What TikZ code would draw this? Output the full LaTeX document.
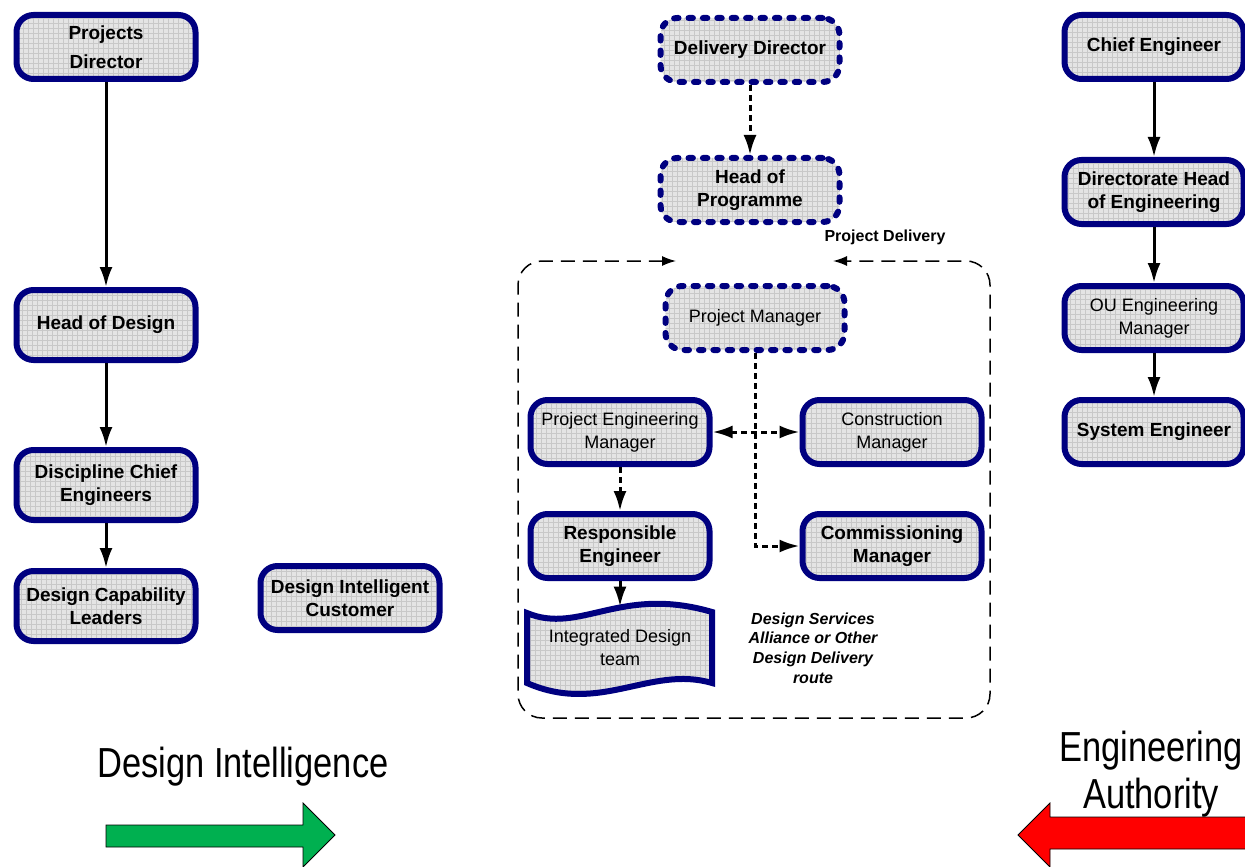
\documentclass[tikz,border=0pt]{standalone}
\usepackage{xcolor}
\usepackage{fontspec}
\setmainfont{Liberation Sans}
\newfontfamily\bigfont[FakeStretch=0.82]{Liberation Sans}
\usetikzlibrary{arrows.meta}

\definecolor{boxblue}{RGB}{0,0,128}
\definecolor{boxfill}{RGB}{228,228,228}
\definecolor{gridgray}{RGB}{200,200,200}
\definecolor{arrowgreen}{RGB}{0,176,80}

\begin{document}
\begin{tikzpicture}[x=0.5pt, y=-0.5pt,
  gridfill/.style={fill=boxfill, path picture={\draw[gridgray, solid, line width=0.15pt, step=2.5pt] (path picture bounding box.south west) grid (path picture bounding box.north east);}},
  role/.style={gridfill, draw=boxblue, line width=3pt, rounded corners=8.5pt, minimum width=89.5pt, minimum height=32pt, inner sep=1pt, align=center, font=\fontsize{9.5}{11.5}\selectfont\bfseries},
  dashrole/.style={role, dash pattern=on 2.2pt off 5pt, line cap=round},
  light/.style={font=\fontsize{9}{11.5}\selectfont},
  tall/.style={minimum height=35pt},
  solidline/.style={line width=1.5pt, -{Latex[length=10pt,width=6.5pt]}},
  dotline/.style={line width=1.5pt, dash pattern=on 3pt off 2pt, -{Latex[length=10pt,width=6.5pt]}},
  container/.style={line width=0.75pt, dash pattern=on 7pt off 4pt, rounded corners=12pt}]

\useasboundingbox (0,0) rectangle (1245,866);

% design intelligence column
\node[role] (pd) at (106,47) {Projects\\[3pt]Director};
\node[role, tall] (hod) at (106,325) {Head of Design};
\node[role, tall] (dce) at (106,485) {Discipline Chief\\Engineers};
\node[role, tall] (dcl) at (106,606) {Design Capability\\Leaders};
\node[role] (dic) at (350,598) {Design Intelligent\\Customer};

\draw[solidline] (pd) -- (hod);
\draw[solidline] (hod) -- (dce);
\draw[solidline] (dce) -- (dcl);

% delivery column
\node[dashrole] (dd) at (750,50) {Delivery Director};
\node[dashrole] (hop) at (750,190) {Head of\\Programme};
\node[font=\fontsize{8}{9.6}\selectfont\bfseries] (pdl) at (885,237) {Project Delivery};

\coordinate (pdin) at (676,261);
\coordinate (pdout) at (833,261);
\draw[container, {Latex[length=7pt,width=5pt]}-{Latex[length=7pt,width=5pt]}] (pdin) -- (518,261) -- (518,718) -- (990,718) -- (990,261) -- (pdout);

\node[dashrole, light] (pm) at (755,318) {Project Manager};
\node[role, light] (pem) at (620,432) {Project Engineering\\Manager};
\node[role, light] (con) at (892,432) {Construction\\Manager};
\node[role] (re) at (620,546) {Responsible\\Engineer};
\node[role] (com) at (892,546) {Commissioning\\Manager};

\draw[gridfill, draw=boxblue, line width=3pt] (527,613) .. controls (580,635) and (620,585) .. (712,612) -- (712,683) .. controls (650,665) and (600,715) .. (527,683) -- cycle;
\node[light, align=center, minimum height=41pt] (idt) at (620,648) {Integrated Design\\team};

\node[font=\fontsize{8}{9.8}\selectfont\bfseries\itshape, align=center] (dsa) at (813,648) {Design Services\\Alliance or Other\\Design Delivery\\route};

\draw[dotline] (dd) -- (hop);
\draw[dotline] (pm.south) |- (com.west);
\draw[dotline, {Latex[length=10pt,width=6.5pt]}-{Latex[length=10pt,width=6.5pt]}] (pem) -- (con);
\draw[dotline] (pem) -- (re);
\draw[solidline] (re) -- (idt);

% engineering authority column
\node[role] (ce) at (1154,47) {Chief Engineer};
\node[role] (dhe) at (1154,192) {Directorate Head\\of Engineering};
\node[role, light] (oum) at (1154,318) {OU Engineering\\Manager};
\node[role] (se) at (1154,432) {System Engineer};

\draw[solidline] (ce) -- (dhe);
\draw[solidline] (dhe) -- (oum);
\draw[solidline] (oum) -- (se);

% big arrows
\node[font=\bigfont\fontsize{21}{23.5}\selectfont] (dil) at (243,767) {Design Intelligence};
\draw[fill=arrowgreen, line width=0.4pt] (106,825) -- (303,825) -- (303,803) -- (335,835) -- (303,867) -- (303,847) -- (106,847) -- cycle;

\node[font=\bigfont\fontsize{21}{23.5}\selectfont, align=center] (eal) at (1151,774) {Engineering\\Authority};
\draw[fill=red, line width=0.4pt] (1260,817) -- (1050,817) -- (1050,803) -- (1018,835) -- (1050,867) -- (1050,849) -- (1260,849) -- cycle;
\end{tikzpicture}
\end{document}
